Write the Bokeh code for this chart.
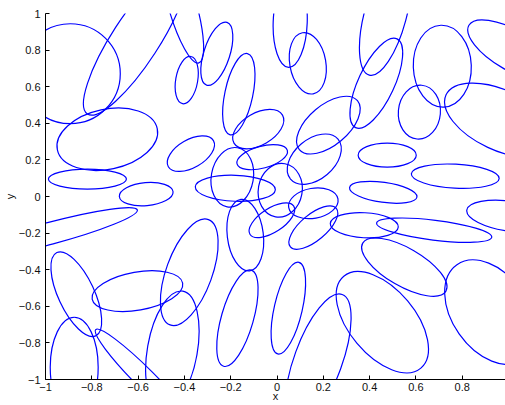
from bokeh.plotting import figure
from bokeh.models import FixedTicker, Range1d, ColumnDataSource
from bokeh.embed import file_html
from bokeh.resources import INLINE

# ellipse centres (data units), full widths / heights (data units), rotation (deg)
ell_x = [-0.893, -0.612, -0.733, -0.819, -0.565, -0.979, -0.867, -0.876, -0.569, -0.603,
         -0.379, -0.452, -0.171, 0.049, 0.178, 0.455, 0.550, 0.921, 1.008, 0.679,
         0.377, 0.459, 0.770, 0.476, 0.468, 0.429, 0.615, 0.714, 1.016, 0.965,
         0.222, 0.161, -0.372, -0.193, -0.180, -0.064, -0.081, 0.014, -0.022, -0.137,
         0.157, 0.157, -0.409, -0.390, -0.260, -0.165, 0.057, 0.133]
ell_y = [0.671, 0.854, 0.313, 0.095, 0.013, -0.201, -0.534, -0.933, -0.998, -0.517,
         -0.414, -0.840, -0.665, -0.610, -0.895, -0.687, -0.386, -0.632, -0.108, -0.184,
         -0.157, 0.023, 0.111, 0.226, 0.991, 0.619, 0.461, 0.712, 0.799, 0.417,
         0.390, 0.204, 0.234, 0.105, 0.045, 0.215, 0.368, 0.034, -0.130, -0.211,
         -0.170, -0.037, 1.045, 0.636, 0.780, 0.559, 0.952, 0.728]
ell_w = [0.432, 0.760, 0.441, 0.337, 0.233, 0.778, 0.397, 0.432, 0.605, 0.397,
         0.484, 0.518, 0.432, 0.406, 0.605, 0.518, 0.415, 0.501, 0.380, 0.501,
         0.294, 0.294, 0.380, 0.251, 0.536, 0.423, 0.233, 0.354, 0.432, 0.518,
         0.328, 0.268, 0.225, 0.259, 0.346, 0.225, 0.242, 0.233, 0.225, 0.311,
         0.259, 0.216, 0.518, 0.207, 0.285, 0.359, 0.389, 0.268]
ell_h = [0.546, 0.257, 0.328, 0.109, 0.126, 0.120, 0.197, 0.262, 0.109, 0.208,
         0.251, 0.273, 0.175, 0.153, 0.262, 0.361, 0.208, 0.415, 0.164, 0.109,
         0.137, 0.109, 0.131, 0.131, 0.230, 0.197, 0.230, 0.317, 0.219, 0.328,
         0.219, 0.219, 0.153, 0.230, 0.142, 0.120, 0.175, 0.240, 0.131, 0.197,
         0.142, 0.164, 0.153, 0.120, 0.142, 0.153, 0.186, 0.197]
ell_angle = [0, 57, 12, 0, 5, 15, -65, 90, -45, 10,
             70, 80, 74, 77, 70, -50, -30, -55, -8, -7,
             -3, -8, -3, 0, 75, 65, 85, 92, -30, -25,
             40, 40, 30, 80, -2, 15, 30, 80, 33, 97,
             40, 10, 106, 80, 72, 78, 88, 100]

x_ticks = [-1, -0.8, -0.6, -0.4, -0.2, 0, 0.2, 0.4, 0.6, 0.8]
x_tick_labels = ["\u22121", "\u22120.8", "\u22120.6", "\u22120.4", "\u22120.2", "0", "0.2", "0.4", "0.6", "0.8"]
y_ticks = [-1, -0.8, -0.6, -0.4, -0.2, 0, 0.2, 0.4, 0.6, 0.8, 1]
y_tick_labels = ["\u22121", "\u22120.8", "\u22120.6", "\u22120.4", "\u22120.2", "0", "0.2", "0.4", "0.6", "0.8", "1"]

src = ColumnDataSource(dict(x=ell_x, y=ell_y, w=ell_w, h=ell_h, a=ell_angle))

p = figure(width=505, height=405, output_backend="svg", toolbar_location=None,
           x_range=Range1d(-1, 0.987), y_range=Range1d(-1, 1),
           min_border_left=45, min_border_right=0, min_border_top=13, min_border_bottom=26)

p.ellipse(x="x", y="y", width="w", height="h", angle="a", angle_units="deg", source=src,
          fill_color=None, line_color="#0000ff", line_width=1.2)

p.grid.visible = False
p.outline_line_color = None
p.background_fill_color = "white"
p.border_fill_color = "white"

p.xaxis.ticker = FixedTicker(ticks=x_ticks)
p.xaxis.major_label_overrides = {t: l for t, l in zip(x_ticks, x_tick_labels)}
p.yaxis.ticker = FixedTicker(ticks=y_ticks)
p.yaxis.major_label_overrides = {t: l for t, l in zip(y_ticks, y_tick_labels)}

p.xaxis.axis_label = "x"
p.yaxis.axis_label = "y"

for ax in (p.xaxis, p.yaxis):
    ax.major_tick_in = 4
    ax.major_tick_out = 0
    ax.minor_tick_line_color = None
    ax.axis_line_color = "black"
    ax.major_tick_line_color = "black"
    ax.major_label_text_font = "Liberation Sans"
    ax.major_label_text_font_size = "11px"
    ax.major_label_text_color = "#111111"
    ax.axis_label_text_font = "Liberation Sans"
    ax.axis_label_text_font_size = "11px"
    ax.axis_label_text_font_style = "normal"
    ax.axis_label_text_color = "#111111"

p.xaxis.major_label_standoff = 3
p.xaxis.axis_label_standoff = -4
p.yaxis.major_label_standoff = 5
p.yaxis.axis_label_standoff = 0

open("out.html", "w").write(file_html(p, INLINE))
